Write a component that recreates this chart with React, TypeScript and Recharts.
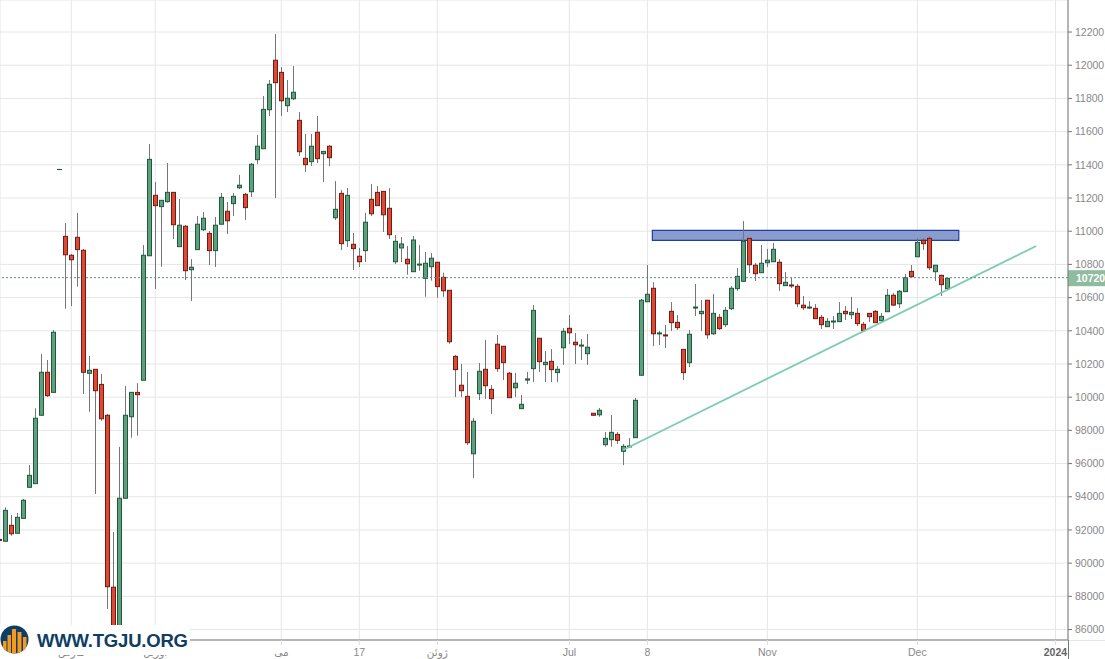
import { ComposedChart, Bar, XAxis, YAxis, CartesianGrid, ReferenceLine, ReferenceArea } from "recharts"

const opens = [
  9143, 9132, 9228, 9180, 9270, 9457, 9479, 9891, 10150, 10029,
  11372, 10969, 10855, 10963, 10885, 10144, 10168, 10077, 9891, 8855,
  8585, 9391, 9882, 10029, 10102, 10852, 11216, 11148, 11178, 11234,
  10907, 11030, 10768, 10889, 11009, 10987, 10883, 11042, 11120, 11166,
  11262, 11222, 11238, 11431, 11497, 11732, 12030, 11957, 11756, 11798,
  11668, 11439, 11419, 11596, 11467, 11512, 11081, 11228, 10943, 10921,
  10849, 10883, 11192, 11234, 11240, 11138, 10816, 10899, 10831, 10756,
  10796, 10716, 10786, 10813, 10722, 10644, 10246, 10072, 10005, 9659,
  10021, 10168, 10047, 10319, 10307, 10144, 10057, 9931, 10103, 10172,
  10355, 10196, 10216, 10148, 10298, 10415, 10331, 10308, 10262, 9903,
  9894, 9714, 9744, 9776, 9674, 9700, 9756, 10132, 10575, 10656,
  10381, 10375, 10517, 10451, 10288, 10208, 10537, 10503, 10584, 10382,
  10481, 10437, 10533, 10654, 10698, 10957, 10795, 10750, 10810, 10816,
  10813, 10672, 10676, 10668, 10554, 10537, 10535, 10481, 10425, 10453,
  10455, 10517, 10497, 10505, 10439, 10505, 10517, 10461, 10515, 10614,
  10563, 10636, 10758, 10846, 10945, 10957, 10756, 10734, 10654,
]

const closes = [
  9137, 9318, 9177, 9276, 9379, 9529, 9873, 10150, 10009, 10391,
  11372, 10858, 10828, 10889, 10150, 10162, 10039, 9870, 8858, 8585,
  9391, 9891, 10029, 10015, 10855, 11433, 11154, 11186, 11234, 11039,
  11036, 10762, 10783, 11042, 11078, 10883, 11036, 11204, 11063, 11210,
  11277, 11142, 11403, 11512, 11734, 11885, 11895, 11786, 11801, 11837,
  11479, 11401, 11512, 11437, 11481, 11443, 11132, 10925, 11216, 10895,
  10816, 11054, 11105, 11154, 11099, 10979, 10939, 10923, 10804, 10947,
  10802, 10807, 10837, 10666, 10641, 10334, 10166, 10039, 9726, 9855,
  10156, 10069, 9991, 10172, 10208, 9997, 10084, 9957, 10110, 10523,
  10214, 10210, 10166, 10168, 10397, 10388, 10316, 10314, 10301, 9891,
  9921, 9752, 9788, 9740, 9704, 9706, 9981, 10584, 10620, 10382,
  10387, 10369, 10449, 10419, 10148, 10379, 10543, 10517, 10376, 10505,
  10413, 10523, 10656, 10728, 10939, 10798, 10744, 10807, 10825, 10891,
  10684, 10692, 10670, 10563, 10539, 10543, 10473, 10437, 10457, 10459,
  10505, 10503, 10511, 10443, 10401, 10485, 10449, 10487, 10614, 10555,
  10638, 10720, 10726, 10933, 10925, 10780, 10795, 10678, 10716,
]

const highs = [
  9143, 9336, 9290, 9302, 9387, 9591, 9933, 10260, 10224, 10405,
  11375, 11049, 10863, 11110, 10893, 10248, 10168, 10140, 9899, 9188,
  9700, 10067, 10029, 10085, 10917, 11525, 11296, 11186, 11411, 11234,
  11194, 11037, 10832, 11092, 11116, 11001, 11086, 11230, 11176, 11230,
  11339, 11230, 11411, 11580, 11815, 11911, 12188, 11989, 11911, 11995,
  11718, 11586, 11586, 11694, 11481, 11519, 11302, 11248, 11260, 10989,
  10899, 11110, 11284, 11272, 11240, 11260, 10977, 10965, 10911, 10971,
  10917, 10875, 10869, 10813, 10750, 10644, 10254, 10200, 10152, 9875,
  10206, 10345, 10073, 10375, 10307, 10152, 10146, 10013, 10152, 10555,
  10355, 10278, 10290, 10188, 10417, 10495, 10387, 10351, 10381, 9903,
  9935, 9790, 9893, 9790, 9718, 9754, 9995, 10592, 10796, 10694,
  10399, 10435, 10573, 10495, 10288, 10405, 10682, 10585, 10584, 10622,
  10501, 10543, 10670, 10778, 11061, 10957, 10808, 10917, 10893, 10929,
  10832, 10754, 10718, 10682, 10610, 10579, 10561, 10495, 10477, 10489,
  10573, 10549, 10604, 10537, 10453, 10505, 10525, 10507, 10652, 10628,
  10646, 10742, 10796, 10959, 10959, 10971, 10795, 10738, 10716,
]

const lows = [
  9137, 9132, 9165, 9180, 9270, 9457, 9479, 9891, 10001, 10029,
  11369, 10533, 10549, 10666, 10019, 9912, 9417, 9858, 8724, 8585,
  8585, 9391, 9756, 9768, 10102, 10852, 10652, 10786, 11172, 10953,
  10907, 10706, 10579, 10889, 11001, 10796, 10784, 11042, 10983, 11092,
  11254, 11068, 11206, 11405, 11497, 11694, 11200, 11694, 11718, 11790,
  11453, 11357, 11393, 11411, 11296, 11393, 11068, 10887, 10905, 10766,
  10784, 10814, 11092, 11154, 10995, 10953, 10802, 10814, 10738, 10756,
  10762, 10605, 10702, 10599, 10605, 10322, 10001, 10001, 9712, 9513,
  9983, 9989, 9899, 10152, 10103, 9997, 10001, 9931, 10079, 10091,
  10152, 10091, 10091, 10091, 10194, 10320, 10200, 10224, 10194, 9891,
  9882, 9702, 9702, 9718, 9591, 9697, 9756, 10132, 10575, 10308,
  10314, 10296, 10399, 10405, 10103, 10182, 10489, 10399, 10351, 10375,
  10405, 10423, 10525, 10640, 10698, 10748, 10700, 10750, 10784, 10816,
  10640, 10672, 10658, 10543, 10525, 10531, 10473, 10411, 10425, 10411,
  10455, 10465, 10471, 10429, 10401, 10453, 10449, 10453, 10515, 10549,
  10537, 10636, 10726, 10846, 10887, 10766, 10700, 10610, 10654,
]

const yTicks = [8600, 8800, 9000, 9200, 9400, 9600, 9800, 10000, 10200, 10400, 10600, 10800, 11000, 11200, 11400, 11600, 11800, 12000, 12200]
const yTickLabels = ["86000", "88000", "90000", "92000", "94000", "96000", "98000", "10000", "10200", "10400", "10600", "10800", "11000", "11200", "11400", "11600", "11800", "12000", "12200"]
const xTicks = [12, 26, 47, 60, 73, 95, 108, 128, 153, 176]
const xTickLabels = ["مارس", "آوریل", "می", "17", "ژوئن", "Jul", "8", "Nov", "Dec", "2024"]

const lastPrice = 10720
const trendLine = [{ x: 103.95, y: 9682 }, { x: 172.8, y: 10911 }]
const resistanceZone = { x1: 108.83, x2: 159.9, y1: 10945, y2: 11005 }

const candles = opens.map((open, i) => ({
  idx: i,
  open,
  close: closes[i],
  high: highs[i],
  low: lows[i],
  range: [lows[i], highs[i]],
}))

const FONT = "'Liberation Sans', Arial, 'DejaVu Sans', sans-serif"

const Candle = (props: any) => {
  const { x, y, width, height, payload } = props
  const col = Math.floor(x + width / 2)
  const span = payload.high - payload.low || 1
  const top = Math.max(payload.open, payload.close)
  const bottom = Math.min(payload.open, payload.close)
  const bodyTop = y + ((payload.high - top) / span) * height
  const bodyBottom = y + ((payload.high - bottom) / span) * height
  const up = payload.close >= payload.open
  return (
    <g>
      <line x1={col + 0.5} x2={col + 0.5} y1={y} y2={y + height} stroke="#767676" strokeWidth={1} />
      <rect
        x={col - 1.5}
        y={bodyTop}
        width={4}
        height={Math.max(bodyBottom - bodyTop, 0.1)}
        fill={up ? "#5f9f7d" : "#dc4a36"}
        stroke={up ? "#1d5a3e" : "#731a13"}
        strokeWidth={1}
      />
    </g>
  )
}

const XTick = (props: any) => {
  const { x, y, payload } = props
  const label = xTickLabels[xTicks.indexOf(payload.value)]
  const isYear = label === "2024"
  return (
    <text
      x={x}
      y={y + 9}
      textAnchor="middle"
      fontSize={10.5}
      fontFamily={FONT}
      fontWeight={isYear ? 700 : 400}
      fill={isYear ? "#666" : "#888"}
    >
      {label}
    </text>
  )
}

const PriceTag = (props: any) => {
  const { x, y, width } = props.viewBox
  return (
    <g>
      <rect x={x + width} y={y - 7.5} width={37} height={16} fill="#8fbb9f" />
      <text x={x + width + 8} y={y + 4.5} fontSize={10.5} fontWeight={700} fontFamily={FONT} fill="#fff">
        {lastPrice}
      </text>
    </g>
  )
}

const Logo = () => (
  <svg width={190} height={30} style={{ position: "absolute", left: 0, top: 625, background: "#fff" }}>
    <defs>
      <clipPath id="logoCircle">
        <circle cx={14.5} cy={14.5} r={14} />
      </clipPath>
    </defs>
    <circle cx={14.5} cy={14.5} r={14} fill="#0c3f66" />
    <g clipPath="url(#logoCircle)" fill="#f7981f">
      <rect x={3} y={16} width={3.5} height={13} />
      <rect x={7.5} y={10} width={3.5} height={19} />
      <rect x={12} y={4} width={4} height={25} />
      <rect x={17.5} y={7} width={4} height={22} />
      <rect x={23} y={12} width={3.5} height={17} />
    </g>
    <text x={37} y={22} fontSize={18.5} fontWeight={700} fontFamily={FONT} fill="#0e3d63" textLength={151}>
      WWW.TGJU.ORG
    </text>
  </svg>
)

const App = () => {
  return (
    <div style={{ position: "absolute", left: 0, top: 0, width: 1105, height: 659, overflow: "hidden", background: "#fff" }}>
      <ComposedChart width={1105} height={659} data={candles} margin={{ top: 0, right: 0, bottom: 0, left: 0 }}>
        <CartesianGrid stroke="#e6e6e6" strokeWidth={1} />
        <XAxis
          dataKey="idx"
          type="number"
          domain={[0.117, 178.1]}
          allowDataOverflow
          ticks={xTicks}
          interval={0}
          height={19}
          stroke="#777"
          tickLine={{ stroke: "#ddd" }}
          tickSize={5}
          tick={<XTick />}
        />
        <YAxis
          orientation="right"
          width={37}
          domain={[8537, 12393]}
          allowDataOverflow
          ticks={yTicks}
          interval={0}
          stroke="#777"
          tickLine={{ stroke: "#777" }}
          tickSize={4}
          tickMargin={3}
          tick={{ fontSize: 10.5, fill: "#888", fontFamily: FONT }}
          tickFormatter={(v: number) => yTickLabels[yTicks.indexOf(v)]}
        />
        <ReferenceArea
          x1={resistanceZone.x1}
          x2={resistanceZone.x2}
          y1={resistanceZone.y1}
          y2={resistanceZone.y2}
          fill="#8a9ccb"
          fillOpacity={1}
          stroke="#1c3fa6"
          strokeWidth={1.2}
        />
        <ReferenceLine
          segment={trendLine}
          stroke="#7ccbb6"
          strokeWidth={1.8}
        />
        <Bar dataKey="range" barSize={5} shape={<Candle />} isAnimationActive={false} />
        <ReferenceLine y={lastPrice} stroke="#5f8f7a" strokeWidth={1} strokeDasharray="2 2" label={<PriceTag />} />
      </ComposedChart>
      <div style={{ position: "absolute", left: 1068, top: 640, width: 1, height: 19, background: "#777" }} />
      <div style={{ position: "absolute", left: 1069, top: 640, width: 36, height: 1, background: "#e6e6e6" }} />
      <Logo />
    </div>
  )
}

export default App
